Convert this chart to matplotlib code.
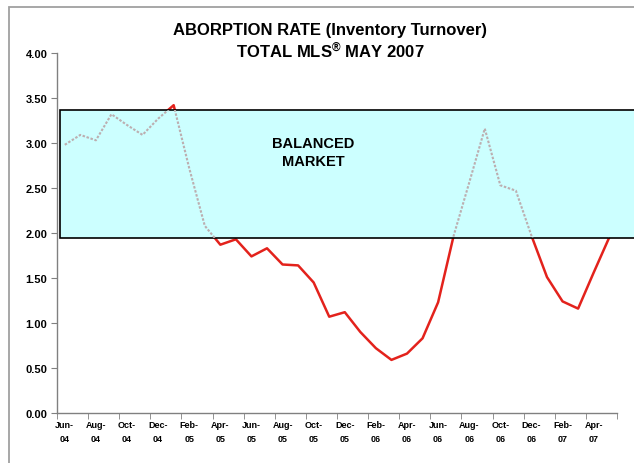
import matplotlib
matplotlib.use("Agg")
import matplotlib.pyplot as plt
import matplotlib.patches as patches
import numpy as np

# ---------------------------------------------------
# 0. Datos
# ---------------------------------------------------

months = [
    "Jun-04", "Jul-04", "Aug-04", "Sep-04", "Oct-04", "Nov-04",
    "Dec-04", "Jan-05", "Feb-05", "Mar-05", "Apr-05", "May-05",
    "Jun-05", "Jul-05", "Aug-05", "Sep-05", "Oct-05", "Nov-05",
    "Dec-05", "Jan-06", "Feb-06", "Mar-06", "Apr-06", "May-06",
    "Jun-06", "Jul-06", "Aug-06", "Sep-06", "Oct-06", "Nov-06",
    "Dec-06", "Jan-07", "Feb-07", "Mar-07", "Apr-07", "May-07",
]

absorption = [
    2.98, 3.09, 3.03, 3.32, 3.20, 3.09,
    3.27, 3.42, 2.72, 2.08, 1.87, 1.93,
    1.74, 1.83, 1.65, 1.64, 1.45, 1.07,
    1.12, 0.90, 0.72, 0.59, 0.66, 0.83,
    1.23, 1.97, 2.56, 3.16, 2.53, 2.47,
    1.97, 1.51, 1.24, 1.16, 1.56, 1.95,
]

# etiquetas del eje x: cada dos meses, en dos líneas
tick_labels = ["Jun-\n04", "Aug-\n04", "Oct-\n04", "Dec-\n04", "Feb-\n05", "Apr-\n05",
               "Jun-\n05", "Aug-\n05", "Oct-\n05", "Dec-\n05", "Feb-\n06", "Apr-\n06",
               "Jun-\n06", "Aug-\n06", "Oct-\n06", "Dec-\n06", "Feb-\n07", "Apr-\n07"]

band_low = 1.95
band_high = 3.37

# ---------------------------------------------------
# 1. Configuración
# ---------------------------------------------------

plt.rcParams["font.family"] = ["Liberation Sans", "DejaVu Sans"]
plt.rcParams["mathtext.fontset"] = "custom"
plt.rcParams["mathtext.rm"] = "Liberation Sans:bold"
plt.rcParams["mathtext.it"] = "Liberation Sans:bold"

x = np.arange(len(months))

fig = plt.figure(figsize=(6.34, 4.64), dpi=100)
ax = fig.add_axes([57 / 634, 50 / 464, 560 / 634, 360 / 464])

# marco exterior gris
frame = patches.Rectangle((9 / 634, -0.1), 1.2, 1 - 8 / 464 + 0.1,
                          transform=fig.transFigure, fill=False,
                          edgecolor="#a0a0a0", linewidth=1.3, clip_on=False)
fig.add_artist(frame)

# ---------------------------------------------------
# 2. Gráfico
# ---------------------------------------------------

ax.plot(x, absorption, color="#e3221c", linewidth=1.8, zorder=2)

band = patches.Rectangle((-0.3, band_low), 40, band_high - band_low,
                         facecolor="#ccffff", edgecolor="black", linewidth=1.2,
                         zorder=3, clip_on=False)
ax.add_patch(band)

# dentro de la banda la línea se ve gris punteada
inner, = ax.plot(x, absorption, color="#bcaeb0", linewidth=1.5,
                 linestyle=(0, (1.2, 0.8)), zorder=4)
clip_rect = patches.Rectangle((-0.3, band_low), 40, band_high - band_low,
                              transform=ax.transData)
inner.set_clip_path(clip_rect)

ax.text(16, 2.9, "BALANCED\nMARKET", ha="center", va="center",
        fontsize=10.5, fontweight="bold", linespacing=1.3, zorder=5)

ax.set_xlim(-0.5, 35.5)
ax.set_ylim(0, 4)

ax.set_yticks(np.arange(0, 4.01, 0.5))
ax.set_yticklabels([f"{v:.2f}" for v in np.arange(0, 4.01, 0.5)])
ax.set_xticks(x[::2])
ax.set_xticklabels(tick_labels, linespacing=1.7)
ax.set_xticks(np.arange(-0.5, 36, 2), minor=True)

ax.tick_params(axis="y", direction="out", length=4, color="#808080",
               labelsize=8, pad=3)
ax.tick_params(axis="x", which="major", length=0, labelsize=6.5, pad=5)
ax.tick_params(axis="x", which="minor", direction="out", length=4, color="#808080")
for lbl in ax.get_xticklabels() + ax.get_yticklabels():
    lbl.set_fontweight("bold")

for side in ["top", "right"]:
    ax.spines[side].set_visible(False)
for side in ["left", "bottom"]:
    ax.spines[side].set_color("#808080")
    ax.spines[side].set_linewidth(1.0)

fig.text(330 / 634, 1 - 30 / 464, "ABORPTION RATE (Inventory Turnover)",
         ha="center", va="center", fontsize=12, fontweight="bold")
fig.text(330 / 634, 1 - 50 / 464, r"TOTAL MLS$^{\circledR}$ MAY 2007",
         ha="center", va="center", fontsize=12, fontweight="bold")

plt.savefig("out.png", dpi=100)
